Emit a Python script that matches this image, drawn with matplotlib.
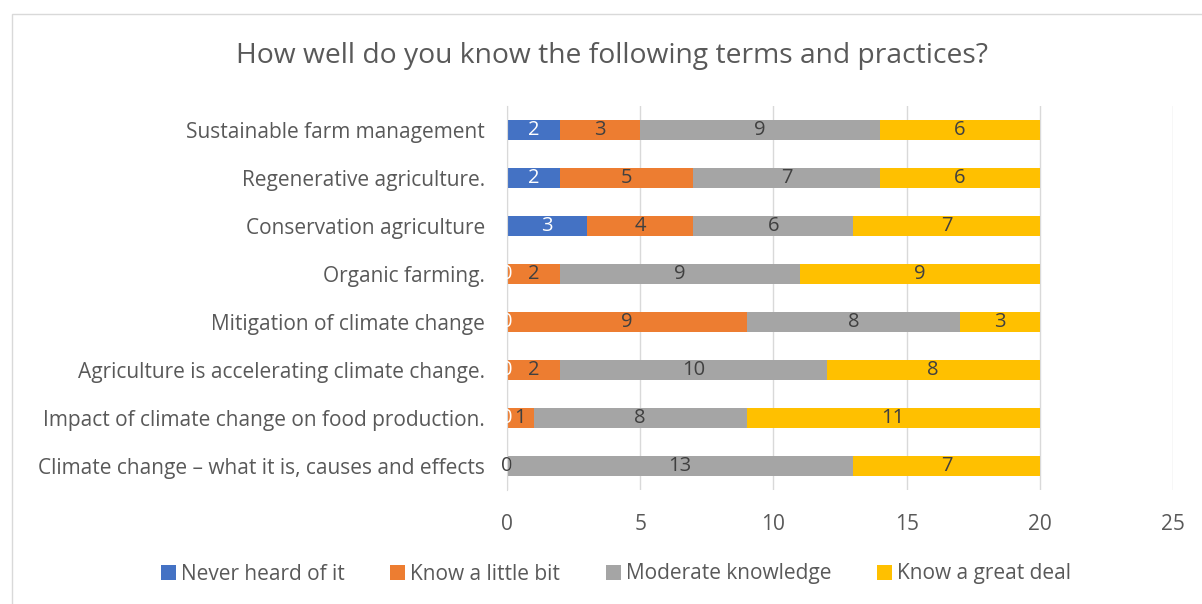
import matplotlib.pyplot as plt
import numpy as np
from matplotlib.patches import Rectangle

# === DATA ===
categories = [
    'Sustainable farm management',
    'Regenerative agriculture.',
    'Conservation agriculture',
    'Organic farming.',
    'Mitigation of climate change',
    'Agriculture is accelerating climate change.',
    'Impact of climate change on food production.',
    'Climate change \u2013 what it is, causes and effects',
]
never_heard = [2, 2, 3, 0, 0, 0, 0, 0]
little_bit = [3, 5, 4, 2, 9, 2, 1, 0]
moderate = [9, 7, 6, 9, 8, 10, 8, 13]
great_deal = [6, 6, 7, 9, 3, 8, 11, 7]
series_names = ['Never heard of it', 'Know a little bit', 'Moderate knowledge', 'Know a great deal']
x_ticks = [0, 5, 10, 15, 20, 25]

# === STYLE ===
colors = ['#4472C4', '#ED7D31', '#A5A5A5', '#FFC000']
label_colors = ['white', '#404040', '#404040', '#404040']
txt = '#595959'
plt.rcParams['font.family'] = ['Open Sans', 'DejaVu Sans']

fig = plt.figure(figsize=(12.02, 6.04), dpi=100)
ax = fig.add_axes([507 / 1202, 1 - 490 / 604, (1173 - 507) / 1202, 384 / 604])

# chart border
fig.patches.append(Rectangle((12 / 1202, -0.1), 1.2, 1.1 - 14 / 604, transform=fig.transFigure,
                             fill=False, edgecolor='#D9D9D9', linewidth=1))

y = np.arange(len(categories))
left = np.zeros(len(categories))
all_series = [never_heard, little_bit, moderate, great_deal]
bars = []
for vals, name, c in zip(all_series, series_names, colors):
    b = ax.barh(y, vals, left=left, height=0.42, color=c, label=name, zorder=3)
    bars.append((b, vals, left.copy()))
    left = left + np.array(vals)

for (b, vals, lft), lc in zip(bars, label_colors):
    for i, v in enumerate(vals):
        ax.text(lft[i] + v / 2, y[i], str(v), ha='center', va='center',
                color=lc, fontsize=14.5, zorder=5)

ax.set_ylim(len(categories) - 0.5, -0.5)
ax.set_xlim(0, 25)
ax.set_xticks(x_ticks)
ax.set_yticks(y)
ax.set_yticklabels(categories)
ax.tick_params(axis='both', length=0, colors=txt, labelsize=15)
ax.tick_params(axis='x', pad=17)
ax.tick_params(axis='y', pad=16)
ax.grid(axis='x', color='#D9D9D9', linewidth=1, zorder=0)
for s in ['top', 'right', 'bottom']:
    ax.spines[s].set_visible(False)
ax.spines['left'].set_color('#D9D9D9')
ax.spines['left'].set_zorder(4)

fig.text(612 / 1202, 1 - 56 / 604, 'How well do you know the following terms and practices?',
         ha='center', va='center', fontsize=20.3, color=txt)

handles, labels = ax.get_legend_handles_labels()
fig.legend(handles, labels, loc='center', bbox_to_anchor=(616 / 1202, 1 - 574 / 604),
           ncol=4, frameon=False, fontsize=15, labelcolor=txt,
           handlelength=0.7, handleheight=0.7, handletextpad=0.25, columnspacing=2.2)

fig.savefig('out.png', dpi=100)
